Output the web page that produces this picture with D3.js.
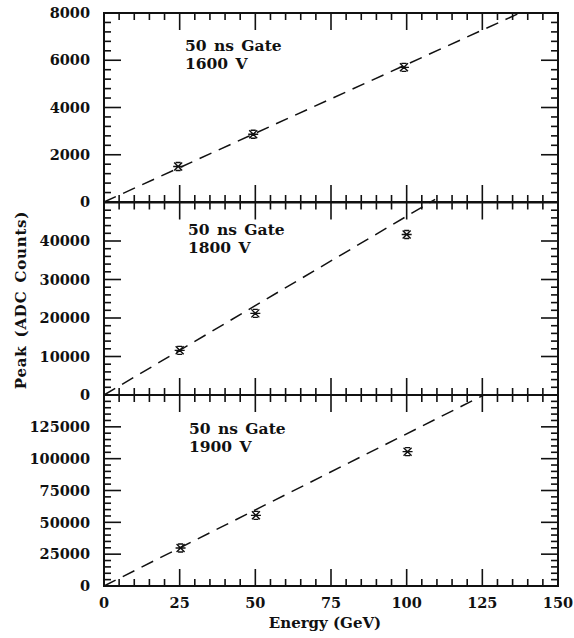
<!DOCTYPE html>
<html><head><meta charset="utf-8">
<script src="https://cdn.jsdelivr.net/npm/d3@7"></script>
<style>
body{margin:0;background:#fff}
text{font-family:"DejaVu Serif",serif;font-weight:bold;fill:#111}
</style>
</head><body><svg id="c" width="574" height="638"></svg>
<script>
// ---- data ----
const energyTicks = [0, 25, 50, 75, 100, 125, 150];
const gateLabels = ["50 ns Gate", "50 ns Gate", "50 ns Gate"];
const voltageLabels = ["1600 V", "1800 V", "1900 V"];
const energies1600 = [24.5, 49.3, 99.1];
const peaks1600 = [1500, 2870, 5700];
const energies1800 = [25, 50, 100];
const peaks1800 = [11600, 21200, 41700];
const energies1900 = [25.3, 50.2, 100.3];
const peaks1900 = [29800, 55500, 105500];
const fitEnergy1600 = [0, 137.4];
const fitPeak1600 = [0, 8000];
const fitEnergy1800 = [0, 109.4];
const fitPeak1800 = [0, 50800];
const fitEnergy1900 = [0, 125.5];
const fitPeak1900 = [0, 150000];
const yMax = [8000, 50000, 150000];
const yMajorStep = [2000, 10000, 25000];
const yMinorStep = [400, 2000, 5000];
const yTickLabels1600 = [0, 2000, 4000, 6000, 8000];
const yTickLabels1800 = [0, 10000, 20000, 30000, 40000];
const yTickLabels1900 = [0, 25000, 50000, 75000, 100000, 125000];

const panels = [
  {E: energies1600, P: peaks1600, fE: fitEnergy1600, fP: fitPeak1600, labels: yTickLabels1600, top: 13, bottom: 202, ty: [51, 68.5], tx: 185},
  {E: energies1800, P: peaks1800, fE: fitEnergy1800, fP: fitPeak1800, labels: yTickLabels1800, top: 202.5, bottom: 395, ty: [235, 253], tx: 188},
  {E: energies1900, P: peaks1900, fE: fitEnergy1900, fP: fitPeak1900, labels: yTickLabels1900, top: 395, bottom: 586, ty: [433.5, 452], tx: 189}
];

const svg = d3.select("#c");
const L = 104, R = 558;
const x = d3.scaleLinear().domain([0, 150]).range([L, R]);
const MAJ = 17, MIN = 7;
const xTickVals = d3.range(5, 150, 5);
const isXMajor = v => v % 25 === 0;

panels.forEach((p, i) => {
  const y = d3.scaleLinear().domain([0, yMax[i]]).range([p.bottom, p.top]);
  const g = svg.append("g");
  const yTickVals = d3.range(yMinorStep[i], yMax[i] - 1e-6, yMinorStep[i]);
  const isYMajor = v => Math.abs(v / yMajorStep[i] - Math.round(v / yMajorStep[i])) < 1e-6;
  const tg = g.append("g").attr("stroke", "#111").attr("stroke-width", 1.6);

  tg.selectAll("line.xb").data(xTickVals).join("line").attr("class", "xb")
    .attr("x1", d => x(d)).attr("x2", d => x(d))
    .attr("y1", p.bottom).attr("y2", d => p.bottom - (isXMajor(d) ? MAJ : MIN));
  tg.selectAll("line.xt").data(xTickVals).join("line").attr("class", "xt")
    .attr("x1", d => x(d)).attr("x2", d => x(d))
    .attr("y1", p.top).attr("y2", d => p.top + (isXMajor(d) ? MAJ : MIN));
  tg.selectAll("line.yl").data(yTickVals).join("line").attr("class", "yl")
    .attr("y1", d => y(d)).attr("y2", d => y(d))
    .attr("x1", L).attr("x2", d => L + (isYMajor(d) ? MAJ : MIN));
  tg.selectAll("line.yr").data(yTickVals).join("line").attr("class", "yr")
    .attr("y1", d => y(d)).attr("y2", d => y(d))
    .attr("x1", R).attr("x2", d => R - (isYMajor(d) ? MAJ : MIN));

  g.append("rect").attr("x", L).attr("y", p.top).attr("width", R - L).attr("height", p.bottom - p.top)
    .attr("fill", "none").attr("stroke", "#111").attr("stroke-width", 2);

  g.selectAll("text.ylab").data(p.labels).join("text").attr("class", "ylab")
    .attr("x", 90).attr("y", d => y(d)).attr("dy", "0.36em").attr("text-anchor", "end")
    .attr("font-size", 14.5).text(d => d);

  g.append("text").attr("x", p.tx).attr("y", p.ty[0]).attr("font-size", 15.5).attr("word-spacing", 2).text(gateLabels[i]);
  g.append("text").attr("x", p.tx).attr("y", p.ty[1]).attr("font-size", 15.5).attr("word-spacing", 2).text(voltageLabels[i]);

  const fit = p.fE.map((e, k) => [e, p.fP[k]]);
  g.append("path").datum(fit).attr("d", d3.line().x(d => x(d[0])).y(d => y(d[1])))
    .attr("fill", "none").attr("stroke", "#111").attr("stroke-width", 1.5).attr("stroke-dasharray", "13,8");

  const pts = p.E.map((e, k) => [e, p.P[k]]);
  const s = 4, c = 2.5;
  g.selectAll("path.m").data(pts).join("path").attr("class", "m")
    .attr("transform", d => `translate(${x(d[0])},${y(d[1])})`)
    .attr("d", `M${-s},${-s}L${s},${s}M${-s},${s}L${s},${-s}M${-s-1},0L${s+1},0M${-c},${-s}L${c},${-s}M${-c},${s}L${c},${s}`)
    .attr("fill", "none").attr("stroke", "#111").attr("stroke-width", 1.4);
});

svg.selectAll("text.xl").data(energyTicks).join("text").attr("class", "xl")
  .attr("x", d => x(d)).attr("y", 608).attr("text-anchor", "middle").attr("font-size", 14.5).text(d => d);

svg.append("text").attr("x", 325).attr("y", 628).attr("text-anchor", "middle").attr("font-size", 15).text("Energy (GeV)");
svg.append("text").attr("transform", "translate(26,300) rotate(-90)").attr("text-anchor", "middle")
  .attr("font-size", 15).attr("letter-spacing", 0.8).attr("word-spacing", 2).text("Peak (ADC Counts)");
</script>
</body></html>
